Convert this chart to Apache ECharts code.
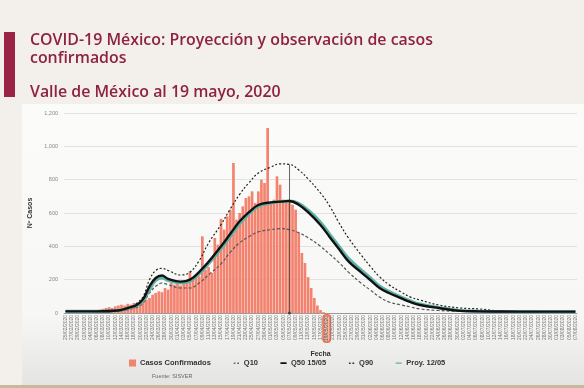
<!DOCTYPE html>
<html><head><meta charset="utf-8">
<script src="https://cdn.jsdelivr.net/npm/echarts@6/dist/echarts.min.js"></script>
<style>html,body{margin:0;padding:0;background:#f3f0eb;}#c{width:584px;height:388px;}</style>
</head><body><div id="c"></div>
<script>
// ---- data ----
const startDate = [2020, 1, 25];   // 25 Feb 2020 (month 0-based)
const dayCount = 165;              // through 7 Aug 2020
const highlightDate = '19/05/2020';

// daily confirmed cases (Valle de México), from 25/02
const casos = [0,0,0,0,0,0,0,0,2,5,10,20,25,30,35,30,40,45,50,45,55,50,60,55,65,70,80,90,110,120,
  130,125,150,140,180,170,175,165,180,195,250,200,215,220,460,260,275,240,450,410,565,500,580,620,900,
  560,600,640,690,700,730,660,730,800,780,1110,665,680,820,770,680,660,660,650,620,480,360,300,215,150,
  90,45,18,5,0];

// projection curves sampled at day offsets from 25/02
const curveDays = [0,10,17,20,23,25,27,29,31,33,37,40,43,46,50,53,56,59,62,66,69,72,75,78,82,85,88,91,95,98,101,104,108,111,114,120,127,133,140,153,164];
const q10  = [10,10,12,20,35,60,120,160,180,170,150,150,180,229,295,365,422,458,487,500,506,500,482,452,400,352,302,245,180,138,96,66,48,36,24,15,10,9,8,8,8];
const q50  = [10,10,15,30,50,85,160,210,225,205,188,200,247,307,400,475,550,605,648,664,668,672,650,605,528,455,382,310,245,198,150,120,88,65,48,30,13,10,9,8,8];
const q90  = [10,10,15,25,60,100,200,255,268,255,228,245,315,420,530,625,712,782,840,875,895,892,858,805,720,640,540,450,350,280,217,170,125,95,78,48,30,24,12,9,8];
const proy = [10,10,15,28,45,75,140,195,210,195,180,190,235,295,385,460,535,595,640,660,668,672,658,618,545,472,400,328,260,212,162,130,95,72,54,33,15,11,9,8,8];
const peakDay = 72;      // Q50 peak (06/05)
const peakQ90 = 892;

const yTicks = [0,200,400,600,800,1000,1200];

// ---- build ----
const pad = n => (n < 10 ? '0' : '') + n;
const fechas = [];
for (let i = 0; i < dayCount; i++) {
  const d = new Date(startDate[0], startDate[1], startDate[2] + i);
  fechas.push(pad(d.getDate()) + '/' + pad(d.getMonth() + 1) + '/' + d.getFullYear());
}
const pairs = arr => curveDays.map((d, i) => [d, arr[i]]);

// legend icons (bounding points keep a 8x8 box)
const box = 'M0,0L0.01,0M0,8L0.01,8M8,0L7.99,0M8,8L7.99,8';
const iconDots = 'path://' + box + 'M1,3.5h2v1.5h-2zM5,3.5h2v1.5h-2z';
const iconThick = 'path://' + box + 'M0.5,3h7v2.2h-7z';
const iconThin = 'path://' + box + 'M0.5,3.4h7v1.4h-7z';

const chart = echarts.init(document.getElementById('c'));
const dark = '#8e2240';
chart.setOption({
  animation: false,
  backgroundColor: '#f3f0eb',
  textStyle: { fontFamily: 'Liberation Sans, Arial, sans-serif' },
  graphic: [
    { type: 'rect', z: -10, silent: true, shape: { x: 22, y: 104, width: 562, height: 281 },
      style: { fill: new echarts.graphic.LinearGradient(0, 0, 0, 1, [
        { offset: 0, color: '#fbfbfa' }, { offset: 0.75, color: '#f7f7f6' }, { offset: 1, color: '#e4e4e3' }]) } },
    { type: 'rect', z: 10, silent: true, shape: { x: 4, y: 32, width: 11, height: 65 }, style: { fill: '#9b2446' } },
    { type: 'rect', z: 10, silent: true, shape: { x: 0, y: 385, width: 584, height: 3 }, style: { fill: '#c9b89c' } },
    { type: 'text', z: 10, left: 30, top: 31, style: { text: 'COVID-19 México: Proyección y observación de casos\nconfirmados',
      fill: dark, font: '600 15.9px "Open Sans"', lineHeight: 18 } },
    { type: 'text', z: 10, left: 30, top: 84, style: { text: 'Valle de México al 19 mayo, 2020',
      fill: dark, font: '600 15.9px "Open Sans"' } },
    { type: 'text', z: 10, left: 152, top: 373, style: { text: 'Fuente: SISVER', fill: '#666', font: '5.5px "Liberation Sans"' } }
  ],
  legend: {
    left: 129, top: 359, padding: 0, itemGap: 22, itemWidth: 7, itemHeight: 7,
    textStyle: { fontSize: 7.5, fontWeight: 'bold', color: '#333', fontFamily: 'Liberation Sans', padding: [0, 0, 0, -1] },
    data: [
      { name: 'Casos Confirmados', icon: 'rect' },
      { name: 'Q10', icon: iconDots, itemStyle: { color: '#666' } },
      { name: 'Q50 15/05', icon: iconThick, itemStyle: { color: '#111' } },
      { name: 'Q90', icon: iconDots, itemStyle: { color: '#333' } },
      { name: 'Proy. 12/05', icon: iconThin, itemStyle: { color: '#5fb3a6' } }
    ]
  },
  grid: { left: 64, right: 7, top: 113, bottom: 75 },
  xAxis: [
    { type: 'category', data: fechas, boundaryGap: true,
      name: 'Fecha', nameLocation: 'middle', nameGap: 33,
      nameTextStyle: { fontSize: 7, fontWeight: 'bold', color: '#333' },
      axisLine: { lineStyle: { color: '#999' } }, axisTick: { show: false },
      axisLabel: { interval: 1, rotate: 90, fontSize: 5, color: '#777', margin: 2,
        formatter: v => v === highlightDate ? '{h|' + v + '}' : v,
        rich: { h: { fontSize: 5, color: '#555', backgroundColor: 'rgba(240,140,110,0.55)',
          borderColor: '#e8724f', borderWidth: 1, borderRadius: 3, padding: [1, 1] } } } },
    { type: 'value', min: -0.5, max: dayCount - 0.5, show: false }
  ],
  yAxis: { type: 'value', min: 0, max: 1200, interval: 200,
    name: 'Nº Casos', nameLocation: 'middle', nameGap: 22, nameRotate: 90,
    nameTextStyle: { fontSize: 7, fontWeight: 'bold', color: '#333' },
    axisLine: { show: false }, axisTick: { show: false },
    axisLabel: { fontSize: 5.5, color: '#888', margin: 6, formatter: v => yTicks.includes(v) ? v.toLocaleString('en-US') : '' },
    splitLine: { lineStyle: { color: '#e2e2e2', width: 1 } } },
  series: [
    { name: 'Casos Confirmados', type: 'bar', data: casos, barCategoryGap: '14%',
      itemStyle: { color: '#f3826f' }, z: 1,
      markLine: { silent: true, symbol: ['circle', 'none'], symbolSize: 3, label: { show: false },
        lineStyle: { color: '#444', width: 0.8, type: 'solid' },
        data: [[{ coord: [fechas[peakDay], 0] }, { coord: [fechas[peakDay], peakQ90] }]] } },
    { name: 'Q10', type: 'line', xAxisIndex: 1, data: pairs(q10), smooth: 0.4, symbol: 'none', z: 3,
      lineStyle: { color: '#555', width: 1.2, type: [3, 2] }, itemStyle: { color: '#555' } },
    { name: 'Q50 15/05', type: 'line', xAxisIndex: 1, data: pairs(q50), smooth: 0.4, symbol: 'none', z: 5,
      lineStyle: { color: '#111', width: 2.4 }, itemStyle: { color: '#111' } },
    { name: 'Q90', type: 'line', xAxisIndex: 1, data: pairs(q90), smooth: 0.4, symbol: 'none', z: 3,
      lineStyle: { color: '#222', width: 1.2, type: [2, 2] }, itemStyle: { color: '#222' } },
    { name: 'Proy. 12/05', type: 'line', xAxisIndex: 1, data: pairs(proy), smooth: 0.4, symbol: 'none', z: 4,
      lineStyle: { color: '#5fb3a6', width: 3 }, itemStyle: { color: '#5fb3a6' } }
  ]
});
</script></body></html>
